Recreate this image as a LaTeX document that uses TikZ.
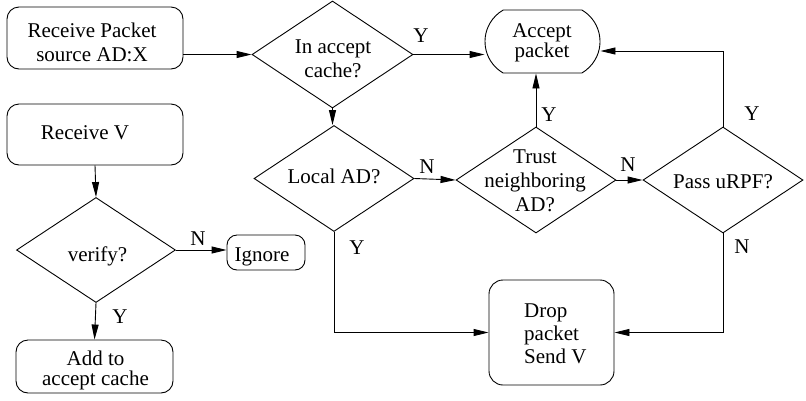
\documentclass[tikz,border=0pt]{standalone}
\usepackage{fontspec}
\setmainfont{Liberation Serif}
\usetikzlibrary{shapes.geometric,shapes.misc,arrows.meta}
\begin{document}
\begin{tikzpicture}[x=1pt,y=-1pt,
  every node/.style={font=\fontsize{21}{24}\selectfont},
  boxnode/.style={draw, line width=0.9pt, rectangle, rounded corners=12pt, inner sep=0pt},
  dianode/.style={draw, line width=0.9pt, diamond, inner sep=0pt, minimum width=160pt, minimum height=106pt},
  termnode/.style={draw, line width=0.9pt, rounded rectangle, rounded rectangle arc length=120, inner sep=0pt, minimum width=115pt, minimum height=63pt},
  txt/.style={inner sep=0pt, align=center},
  lbl/.style={inner sep=0pt},
  conn/.style={line width=0.9pt, -{Triangle[length=15pt,width=7pt]}},
  line/.style={line width=0.9pt}
]
\useasboundingbox (0,0) rectangle (806,400);

% shapes
\node[boxnode, minimum width=176pt, minimum height=62pt] (rp) at (95,38) {};
\node[dianode, minimum width=161pt, minimum height=107pt] (ia) at (332.5,54.5) {};
\node[termnode] (acc) at (542.5,41.5) {};
\node[dianode] (la) at (334,178.5) {};
\node[dianode] (tr) at (536,180) {};
\node[dianode] (pu) at (723,180) {};
\node[boxnode, rounded corners=14pt, minimum width=125pt, minimum height=105pt] (dr) at (551.5,332.5) {};
\node[boxnode, minimum width=176pt, minimum height=61pt] (rv) at (95,134.5) {};
\node[dianode, minimum width=159pt, minimum height=105pt] (vf) at (96,250) {};
\node[boxnode, rounded corners=10pt, minimum width=78pt, minimum height=35pt] (ig) at (266,252.5) {};
\node[boxnode, minimum width=157pt, minimum height=53pt] (ad) at (94.5,366.5) {};

% texts
\node[txt] (rpt) at (92,42) {Receive Packet\\source AD:X};
\node[txt] (iat) at (333,58.5) {In accept\\cache?};
\node[txt, font=\fontsize{21}{20}\selectfont] (acct) at (542,43) {Accept\\packet};
\node[txt] (lat) at (334,176) {Local AD?};
\node[txt] (trt) at (535,181) {Trust\\neighboring\\AD?};
\node[txt] (put) at (723,181.5) {Pass uRPF?};
\node[txt, align=left, anchor=west, font=\fontsize{21}{23}\selectfont] (drt) at (524,334) {Drop\\packet\\Send V};
\node[txt] (rvt) at (85,132.5) {Receive V};
\node[txt] (vft) at (97.5,256) {verify?};
\node[txt] (igt) at (262,256.5) {Ignore};
\node[txt, font=\fontsize{21}{20}\selectfont] (adt) at (95.5,370.5) {Add to\\accept cache};

% connectors
\draw[conn] (rp.east |- ia.west) -- (ia.west);
\draw[conn] (ia.east) -- (ia.east -| acc.west);
\draw[conn] (ia.south) -- (ia.south |- la.north);
\draw[conn] (la.east) -- (tr.west);
\draw[conn] (tr.east) -- (pu.west);
\draw[conn] (tr.north) -- (tr.north |- acc.south);
\coordinate (c1) at (723,51);
\draw[conn] (pu.north) -- (c1) -- (c1 -| acc.east);
\draw[conn] (la.south) |- (dr.west);
\draw[conn] (pu.south) |- (dr.east);
\draw[conn] (rv.south) -- (vf.north);
\draw[conn] (vf.east) -- (vf.east -| ig.west);
\draw[conn] (vf.south) -- (ad.north);

% labels
\node[lbl] (y1) at (421,35.5) {Y};
\node[lbl] (y2) at (549,115) {Y};
\node[lbl] (y3) at (752,114) {Y};
\node[lbl] (n1) at (427,167) {N};
\node[lbl] (n2) at (628,165) {N};
\node[lbl] (y4) at (357,248) {Y};
\node[lbl] (n3) at (742,247) {N};
\node[lbl] (n4) at (198,238.5) {N};
\node[lbl] (y5) at (120,316.5) {Y};
\end{tikzpicture}
\end{document}
